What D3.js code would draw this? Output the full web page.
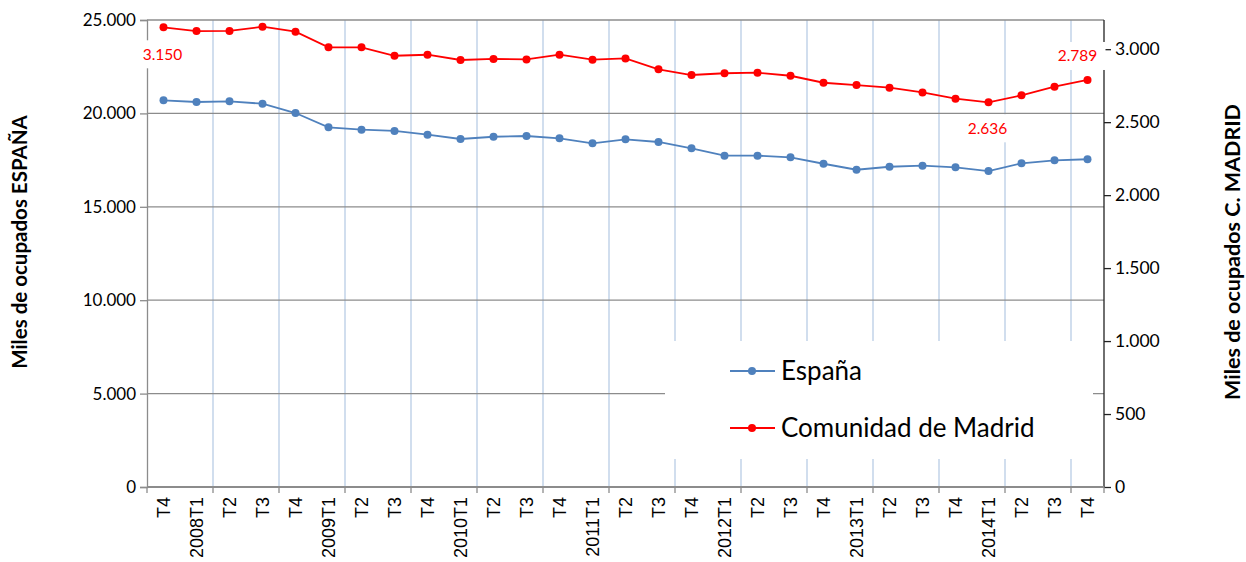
<!DOCTYPE html>
<html>
<head>
<meta charset="utf-8">
<script src="https://cdn.jsdelivr.net/npm/d3@7"></script>
<style>
  body { margin: 0; background: #fff; }
  svg { display: block; }
</style>
</head>
<body>
<div id="chart"></div>
<script>
// Quarters from 2007T4 to 2014T4
const categories = [
  'T4', '2008T1', 'T2', 'T3', 'T4', '2009T1', 'T2', 'T3', 'T4', '2010T1', 'T2', 'T3', 'T4',
  '2011T1', 'T2', 'T3', 'T4', '2012T1', 'T2', 'T3', 'T4', '2013T1', 'T2', 'T3', 'T4',
  '2014T1', 'T2', 'T3', 'T4'
];

// Miles de ocupados (left axis)
const espana = [
  20700, 20610, 20645, 20520, 20020, 19255, 19130, 19060, 18860, 18630, 18750, 18790, 18665,
  18400, 18610, 18470, 18130, 17735, 17735, 17650, 17305, 16985, 17145, 17200, 17115,
  16915, 17330, 17490, 17545
];

// Miles de ocupados (right axis)
const madrid = [
  3150, 3124, 3125, 3154, 3120, 3013, 3013, 2955, 2962, 2926, 2933, 2930, 2962,
  2928, 2937, 2862, 2823, 2835, 2839, 2818, 2770, 2754, 2736, 2704, 2661,
  2636, 2684, 2743, 2789
];

const leftTicks = [0, 5000, 10000, 15000, 20000, 25000];
const rightTicks = [0, 500, 1000, 1500, 2000, 2500, 3000];
const labelIdx = [0, 25, 28];

const W = 1246, H = 562;
const m = { left: 147, right: 1104, top: 20, bottom: 487 };
const fmt = v => d3.format(',')(v).replace(/,/g, '.');
const FONT = 'Lato, "Open Sans", sans-serif';

const svg = d3.select('#chart').append('svg')
  .attr('width', W).attr('height', H);

const x = d3.scaleBand().domain(d3.range(categories.length)).range([m.left, m.right]);
const yL = d3.scaleLinear().domain([0, 25000]).range([m.bottom, m.top]);
const yR = d3.scaleLinear().domain([0, 3200]).range([m.bottom, m.top]);

// Vertical gridlines every two quarters
const bounds = d3.range(2, categories.length, 2).map(i => x(i));
svg.append('g').selectAll('line').data(bounds).join('line')
  .attr('x1', d => d).attr('x2', d => d)
  .attr('y1', m.top).attr('y2', m.bottom)
  .attr('stroke', '#b9cde5').attr('stroke-width', 1.3);

// Horizontal gridlines
svg.append('g').selectAll('line').data(leftTicks.slice(1)).join('line')
  .attr('x1', m.left).attr('x2', m.right)
  .attr('y1', d => yL(d)).attr('y2', d => yL(d))
  .attr('stroke', '#8c8c8c').attr('stroke-width', 1.3);

// Left axis
const gL = svg.append('g').attr('transform', `translate(${m.left},0)`)
  .call(d3.axisLeft(yL).tickValues(leftTicks).tickFormat(fmt).tickSize(7).tickPadding(4));
gL.select('.domain').attr('stroke', '#8c8c8c').attr('stroke-width', 1.3);
gL.selectAll('.tick line').attr('stroke', '#8c8c8c').attr('stroke-width', 1.3);
gL.selectAll('text').attr('font-family', FONT).attr('font-size', 17).attr('fill', '#000');

// Right axis
const gR = svg.append('g').attr('transform', `translate(${m.right},0)`)
  .call(d3.axisRight(yR).tickValues(rightTicks).tickFormat(fmt).tickSize(7).tickPadding(4));
gR.select('.domain').attr('stroke', '#222').attr('stroke-width', 1.3)
  .attr('d', `M0,${m.top}V${m.bottom}`);
gR.selectAll('.tick line').attr('stroke', '#222').attr('stroke-width', 1.3);
gR.selectAll('text').attr('font-family', FONT).attr('font-size', 17.5).attr('fill', '#000');

// Bottom axis
const gB = svg.append('g').attr('transform', `translate(0,${m.bottom})`);
gB.append('line').attr('x1', m.left).attr('x2', m.right)
  .attr('stroke', '#8c8c8c').attr('stroke-width', 2);
gB.selectAll('.tk').data([m.left, ...bounds, m.right]).join('line').attr('class', 'tk')
  .attr('x1', d => d).attr('x2', d => d).attr('y1', 0).attr('y2', 6)
  .attr('stroke', '#8c8c8c').attr('stroke-width', 1.3);
gB.selectAll('text').data(categories).join('text')
  .attr('transform', (d, i) => `translate(${x(i) + x.bandwidth() / 2},10) rotate(-90)`)
  .attr('text-anchor', 'end').attr('dy', '0.36em')
  .attr('font-family', '"Liberation Sans", Arial, sans-serif').attr('font-size', 18)
  .text(d => d);

// Series
const series = [
  { name: 'España', values: espana, y: yL, color: '#4f81bd' },
  { name: 'Comunidad de Madrid', values: madrid, y: yR, color: '#ff0000' }
];
series.forEach(s => {
  const line = d3.line().x((d, i) => x(i) + x.bandwidth() / 2).y(d => s.y(d));
  svg.append('path').datum(s.values)
    .attr('d', line).attr('fill', 'none')
    .attr('stroke', s.color).attr('stroke-width', 1.8);
  svg.append('g').selectAll('circle').data(s.values).join('circle')
    .attr('cx', (d, i) => x(i) + x.bandwidth() / 2).attr('cy', d => s.y(d))
    .attr('r', 4).attr('fill', s.color);
});

// Data labels for Madrid
const lbl = svg.append('g');
labelIdx.forEach(i => {
  const cx = x(i) + x.bandwidth() / 2;
  const cy = yR(madrid[i]);
  let tx, ty;
  if (i === 0) { tx = cx - 1; ty = cy + 27; }
  else if (i === 25) { tx = cx - 1; ty = cy + 26; }
  else { tx = cx - 10; ty = cy - 24; }
  lbl.append('rect').attr('x', tx - 26).attr('y', ty - 14).attr('width', 54).attr('height', 28)
    .attr('fill', '#fff');
  lbl.append('text').attr('x', tx).attr('y', ty).attr('dy', '0.35em')
    .attr('text-anchor', 'middle').attr('font-family', FONT).attr('font-size', 15.5)
    .attr('fill', '#ff0000').text(fmt(madrid[i]));
});

// Legend
const lg = svg.append('g');
lg.append('rect').attr('x', 665).attr('y', 341).attr('width', 428).attr('height', 118).attr('fill', '#fff');
series.forEach((s, i) => {
  const ly = 371 + i * 57;
  lg.append('line').attr('x1', 730).attr('x2', 775).attr('y1', ly).attr('y2', ly)
    .attr('stroke', s.color).attr('stroke-width', 1.8);
  lg.append('circle').attr('cx', 752).attr('cy', ly).attr('r', 4).attr('fill', s.color);
  lg.append('text').attr('x', 781).attr('y', ly).attr('dy', '0.35em')
    .attr('font-family', FONT).attr('font-size', 26).text(s.name);
});

// Axis titles
svg.append('text')
  .attr('transform', `translate(27,242) rotate(-90)`)
  .attr('text-anchor', 'middle').attr('font-family', FONT).attr('font-weight', 'bold')
  .attr('font-size', 20.5).text('Miles de ocupados ESPAÑA');
svg.append('text')
  .attr('transform', `translate(1240,252) rotate(-90)`)
  .attr('text-anchor', 'middle').attr('font-family', FONT).attr('font-weight', 'bold')
  .attr('font-size', 21.5).text('Miles de ocupados C. MADRID');
</script>
</body>
</html>
